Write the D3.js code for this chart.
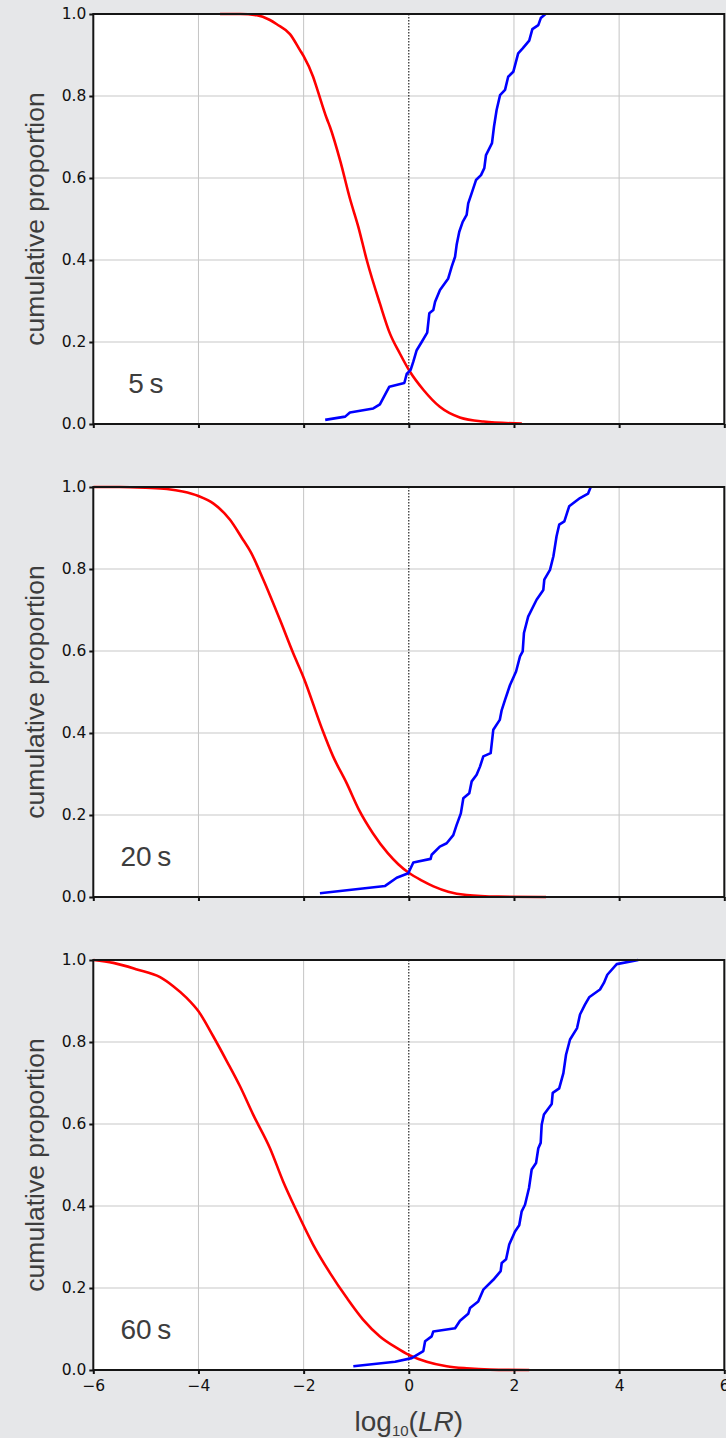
<!DOCTYPE html>
<html>
<head>
<meta charset="utf-8">
<script src="https://cdn.jsdelivr.net/npm/d3@7"></script>
<style>
  html, body { margin: 0; padding: 0; background: #e6e7e9; }
  svg { display: block; }
</style>
</head>
<body>
<svg id="chart" width="726" height="1438"></svg>
<script>
// Recording durations, one panel each
const durations = ["5\u2009s", "20\u2009s", "60\u2009s"];

// Axis ticks
const xTicks = [-6, -4, -2, 0, 2, 4, 6];
const yTicks = [0, 0.2, 0.4, 0.6, 0.8, 1.0];
const xGrid = [-4, -2, 2, 4];
const yGrid = [0.2, 0.4, 0.6, 0.8];

// Different-speaker comparisons: [log10(LR), cumulative proportion]
const diff5s = [[-3.59,1.0],[-3.2,1.0],[-2.89,0.997],[-2.65,0.986],[-2.51,0.975],[-2.26,0.951],[-2.07,0.912],
  [-2.0,0.897],[-1.82,0.847],[-1.75,0.82],[-1.56,0.745],[-1.5,0.725],[-1.3,0.64],[-1.12,0.55],[-0.96,0.481],
  [-0.8,0.4],[-0.55,0.294],[-0.36,0.221],[-0.17,0.172],[0.02,0.128],[0.28,0.083],[0.59,0.042],[0.97,0.016],
  [1.42,0.006],[2.15,0.001]];
const diff20s = [[-6,1],[-5.5,1],[-5,0.998],[-4.6,0.995],[-4.3,0.989],[-4,0.978],[-3.72,0.96],[-3.4,0.92],
  [-3.18,0.877],[-3.0,0.84],[-2.77,0.775],[-2.45,0.676],[-2.2,0.595],[-2.0,0.535],[-1.65,0.41],[-1.44,0.343],
  [-1.18,0.277],[-0.95,0.213],[-0.68,0.155],[-0.4,0.107],[-0.2,0.08],[0,0.059],[0.25,0.04],[0.47,0.026],
  [0.75,0.013],[1.1,0.005],[1.7,0.001],[2.61,0]];
const diff60s = [[-6,1],[-5.62,0.993],[-5.17,0.977],[-4.73,0.958],[-4.48,0.936],[-4.22,0.907],[-4,0.875],
  [-3.72,0.814],[-3.46,0.753],[-3.21,0.692],[-2.96,0.623],[-2.64,0.541],[-2.39,0.46],[-2.13,0.387],[-1.82,0.306],
  [-1.5,0.237],[-1.18,0.176],[-0.87,0.123],[-0.55,0.082],[-0.23,0.054],[0,0.037],[0.34,0.02],[0.72,0.009],
  [1.1,0.004],[1.54,0.001],[2.29,0]];

// Same-speaker comparisons: [log10(LR), cumulative proportion]
const same5s = [[-1.59,0.01],[-1.21,0.018],[-1.12,0.028],[-0.675,0.038],[-0.55,0.048],[-0.37,0.091],[-0.085,0.10],
  [-0.04,0.122],[0.035,0.132],[0.086,0.152],[0.15,0.18],[0.245,0.20],[0.35,0.223],[0.39,0.27],[0.466,0.278],
  [0.5,0.298],[0.593,0.327],[0.75,0.355],[0.816,0.384],[0.88,0.408],[0.91,0.437],[0.96,0.469],[1.025,0.493],
  [1.10,0.51],[1.13,0.538],[1.196,0.563],[1.278,0.595],[1.373,0.607],[1.436,0.624],[1.468,0.656],[1.582,0.685],
  [1.62,0.725],[1.67,0.766],[1.735,0.802],[1.83,0.815],[1.89,0.847],[1.987,0.859],[2.08,0.904],[2.166,0.916],
  [2.29,0.935],[2.35,0.963],[2.463,0.973],[2.51,0.99],[2.60,1.0]];
const same20s = [[-1.69,0.009],[-0.45,0.027],[-0.23,0.047],[-0.01,0.058],[0.086,0.084],[0.415,0.093],[0.435,0.103],
  [0.59,0.123],[0.72,0.131],[0.846,0.151],[0.91,0.176],[0.99,0.204],[1.037,0.241],[1.15,0.253],[1.196,0.282],
  [1.29,0.298],[1.354,0.318],[1.417,0.343],[1.557,0.351],[1.607,0.408],[1.73,0.432],[1.767,0.456],[1.83,0.481],
  [1.925,0.517],[2.04,0.55],[2.115,0.587],[2.166,0.599],[2.19,0.644],[2.27,0.684],[2.43,0.725],[2.558,0.749],
  [2.577,0.774],[2.685,0.798],[2.75,0.831],[2.81,0.88],[2.86,0.908],[2.958,0.916],[3.05,0.953],[3.256,0.973],
  [3.41,0.984],[3.46,1.0]];
const same60s = [[-1.055,0.009],[-0.26,0.02],[0.055,0.029],[0.276,0.046],[0.31,0.07],[0.435,0.082],[0.466,0.094],
  [0.88,0.102],[0.974,0.12],[1.13,0.137],[1.164,0.151],[1.32,0.167],[1.417,0.196],[1.607,0.22],[1.747,0.241],
  [1.767,0.261],[1.85,0.27],[1.91,0.306],[2.02,0.338],[2.10,0.353],[2.147,0.387],[2.21,0.403],[2.286,0.444],
  [2.337,0.489],[2.42,0.505],[2.463,0.541],[2.508,0.554],[2.527,0.598],[2.57,0.623],[2.718,0.649],[2.737,0.676],
  [2.86,0.687],[2.94,0.724],[2.99,0.769],[3.066,0.806],[3.20,0.834],[3.256,0.867],[3.35,0.891],[3.43,0.909],
  [3.636,0.928],[3.71,0.944],[3.775,0.964],[3.954,0.99],[4.365,1.0]];

const diffSeries = [diff5s, diff20s, diff60s];
const sameSeries = [same5s, same20s, same60s];

// Layout
const W = 726;
const left = 93.3, right = 724.3;
const panelTops = [14, 487, 960];
const panelH = 410;
const tickFont = "'DejaVu Sans', sans-serif";
const labelFont = "'Liberation Sans', Arial, sans-serif";
const labelColor = "#3d3d3d";

const svg = d3.select("#chart");

const x = d3.scaleLinear().domain([-6, 6]).range([left, right]);

const fmtY = d3.format(".1f");
const fmtX = d3.format("d");

durations.forEach((label, i) => {
  const top = panelTops[i];
  const y = d3.scaleLinear().domain([0, 1]).range([top + panelH, top]);
  const g = svg.append("g");

  // plot background
  g.append("rect")
    .attr("x", left).attr("y", top)
    .attr("width", right - left).attr("height", panelH)
    .attr("fill", "#ffffff");

  // grid lines
  g.append("g").selectAll("line").data(xGrid).join("line")
    .attr("x1", d => x(d)).attr("x2", d => x(d))
    .attr("y1", top).attr("y2", top + panelH)
    .attr("stroke", "#c4c4c4").attr("stroke-width", 1);
  g.append("g").selectAll("line").data(yGrid).join("line")
    .attr("x1", left).attr("x2", right)
    .attr("y1", d => y(d)).attr("y2", d => y(d))
    .attr("stroke", "#c8c8c8").attr("stroke-width", 1.2);

  // LR = 1 reference line
  g.append("line")
    .attr("x1", x(0)).attr("x2", x(0))
    .attr("y1", top).attr("y2", top + panelH)
    .attr("stroke", "#111").attr("stroke-width", 1.1)
    .attr("stroke-dasharray", "1.5,1.5");

  // clip for curves
  const clipId = "clip" + i;
  g.append("clipPath").attr("id", clipId)
    .append("rect").attr("x", left).attr("y", top - 2)
    .attr("width", right - left).attr("height", panelH + 4);

  const curves = g.append("g").attr("clip-path", `url(#${clipId})`);

  const smooth = d3.line()
    .x(d => x(d[0])).y(d => y(d[1]))
    .curve(d3.curveMonotoneX);
  const stepped = d3.line()
    .x(d => x(d[0])).y(d => y(d[1]));

  curves.append("path")
    .datum(diffSeries[i])
    .attr("d", smooth)
    .attr("fill", "none")
    .attr("stroke", "#ff0000")
    .attr("stroke-width", 2.6)
    .attr("stroke-linejoin", "round");

  curves.append("path")
    .datum(sameSeries[i])
    .attr("d", stepped)
    .attr("fill", "none")
    .attr("stroke", "#0000ff")
    .attr("stroke-width", 2.6)
    .attr("stroke-linejoin", "round");

  // frame
  g.append("rect")
    .attr("x", left).attr("y", top)
    .attr("width", right - left).attr("height", panelH)
    .attr("fill", "none")
    .attr("stroke", "#151515").attr("stroke-width", 2);

  // axes
  const isLast = i === durations.length - 1;
  const xAxis = d3.axisBottom(x).tickValues(xTicks).tickSize(4).tickPadding(6)
    .tickFormat(isLast ? fmtX : () => "");
  const gx = g.append("g")
    .attr("transform", `translate(0,${top + panelH})`)
    .call(xAxis);
  gx.select(".domain").remove();
  gx.selectAll(".tick line").attr("stroke", "#111").attr("stroke-width", 2);
  gx.selectAll(".tick text").attr("font-family", tickFont).attr("font-size", 15.5).attr("fill", "#111");

  const yAxis = d3.axisLeft(y).tickValues(yTicks).tickSize(4).tickPadding(3).tickFormat(fmtY);
  const gy = g.append("g")
    .attr("transform", `translate(${left},0)`)
    .call(yAxis);
  gy.select(".domain").remove();
  gy.selectAll(".tick line").attr("stroke", "#111").attr("stroke-width", 2);
  gy.selectAll(".tick text").attr("font-family", tickFont).attr("font-size", 15.5).attr("fill", "#111");

  // y axis title
  g.append("text")
    .attr("transform", `translate(35,${top + panelH / 2}) rotate(-90)`)
    .attr("text-anchor", "middle")
    .attr("dominant-baseline", "central")
    .attr("font-family", labelFont)
    .attr("font-size", 26.5)
    .attr("fill", labelColor)
    .text("cumulative proportion");

  // duration label
  g.append("text")
    .attr("x", x(-5))
    .attr("y", y(0.1) + 10)
    .attr("text-anchor", "middle")
    .attr("font-family", labelFont)
    .attr("font-size", 28)
    .attr("fill", labelColor)
    .text(label);
});

// x axis title: log10(LR)
const xt = svg.append("text")
  .attr("x", x(0))
  .attr("y", 1431)
  .attr("text-anchor", "middle")
  .attr("font-family", labelFont)
  .attr("font-size", 28)
  .attr("fill", labelColor);
xt.append("tspan").text("log");
xt.append("tspan").attr("font-size", 15).attr("dy", 5).text("10");
xt.append("tspan").attr("dy", -5).text("(");
xt.append("tspan").attr("font-style", "italic").text("LR");
xt.append("tspan").text(")");
</script>
</body>
</html>
